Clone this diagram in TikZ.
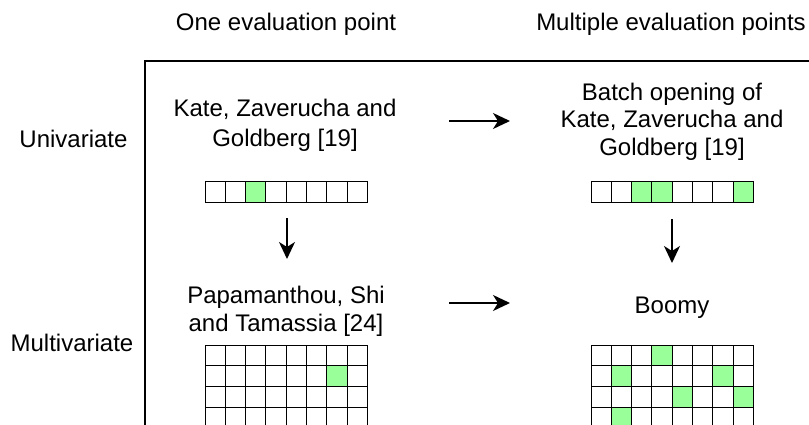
\documentclass[tikz,border=0pt]{standalone}
\usepackage{fontspec}
\setmainfont{Liberation Sans}
\usetikzlibrary{arrows.meta}
\definecolor{hit}{RGB}{153,255,153}
\tikzset{
  txt/.style={inner sep=0pt, font=\fontsize{24}{28}\selectfont},
  cell/.style={draw=black, line width=1pt},
  flow/.style={line width=1.6pt, -{Stealth[length=17pt,width=16pt,inset=5pt]}},
  frame/.style={line width=2pt, line join=miter},
}
% 8-column grid of cells: #1 = left x, #2 = top y, #3 = rows, #4 = filled cells as col/row
\newcommand{\cellgrid}[4]{%
  \foreach \c/\r in {#4} {
    \fill[hit] ({#1+(\c-1)*20.3},{#2+(\r-1)*20.7}) rectangle ++(20.3,20.7);
  }
  \foreach \r in {1,...,#3} {
    \foreach \c in {1,...,8} {
      \draw[cell] ({#1+(\c-1)*20.3},{#2+(\r-1)*20.7}) rectangle ++(20.3,20.7);
    }
  }
}
\begin{document}
\begin{tikzpicture}[x=1pt,y=-1pt]
\useasboundingbox (0,0) rectangle (809,425);
\clip (0,0) rectangle (809,425);
\fill[white] (0,0) rectangle (809,425);

% column and row headings
\node[txt, anchor=base] (hone) at (286,30.5) {One evaluation point};
\node[txt, anchor=base] (hmany) at (671,30.5) {Multiple evaluation points};
\node[txt, anchor=base] (huni) at (73.5,148) {Univariate};
\node[txt, anchor=base] (hmulti) at (72,351.5) {Multivariate};

% frame
\draw[frame] (145,430) -- (145,61.5) -- (815,61.5);

% schemes
\node[txt, anchor=north, align=center, font=\fontsize{24}{30}\selectfont] (kzg) at (285,99.2)
  {Kate, Zaverucha and\\Goldberg [19]};
\node[txt, anchor=north, align=center, font=\fontsize{24}{27.5}\selectfont] (batch) at (672,82.5)
  {Batch opening of\\Kate, Zaverucha and\\Goldberg [19]};
\node[txt, anchor=north, align=center, font=\fontsize{24}{28.4}\selectfont] (pst) at (286,285.8)
  {Papamanthou, Shi\\and Tamassia [24]};
\node[txt, anchor=base] (boomy) at (672,313) {Boomy};

% evaluation grids
\cellgrid{205}{182}{1}{3/1}
\cellgrid{591}{182}{1}{3/1,4/1,8/1}
\cellgrid{205}{345}{4}{7/2}
\cellgrid{591}{345}{4}{4/1,2/2,7/2,5/3,8/3,2/4}

% generalisation arrows
\coordinate (uA) at (449,121);
\coordinate (uB) at (510,121);
\coordinate (mA) at (449,303);
\coordinate (mB) at (510,303);
\coordinate (lA) at (287,218);
\coordinate (lB) at (287,259);
\coordinate (rA) at (672,219);
\coordinate (rB) at (672,263);
\draw[flow] (uA) -- (uB);
\draw[flow] (mA) -- (mB);
\draw[flow] (lA) -- (lB);
\draw[flow] (rA) -- (rB);
\end{tikzpicture}
\end{document}
